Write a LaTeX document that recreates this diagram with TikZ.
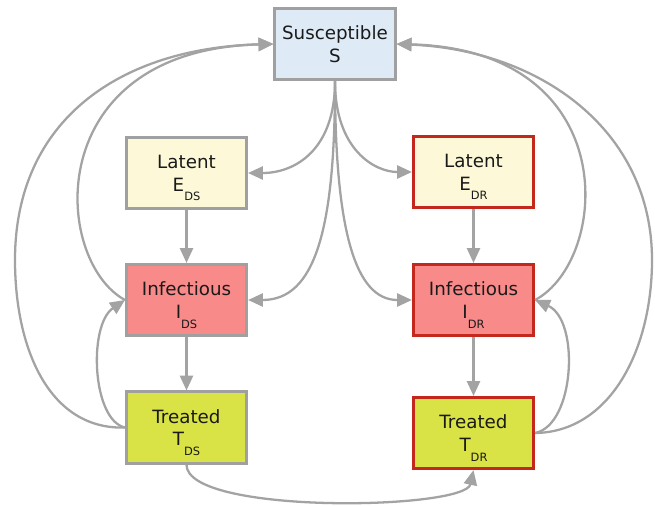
\documentclass[tikz,border=0pt]{standalone}
\usepackage{fontspec}
\setmainfont{DejaVu Sans}
\usetikzlibrary{arrows.meta}

\definecolor{edgegray}{HTML}{A3A3A3}
\definecolor{boxgray}{HTML}{A0A0A0}
\definecolor{resred}{HTML}{C4281C}
\definecolor{susfill}{HTML}{DEEBF6}
\definecolor{latfill}{HTML}{FDF9D8}
\definecolor{inffill}{HTML}{F98A8A}
\definecolor{trtfill}{HTML}{D9E346}
\definecolor{txtblack}{HTML}{1A1A1A}

% lowered subscript that does not move the text
\newcommand{\compsub}[1]{\raisebox{-5.5pt}[0pt][0pt]{\fontsize{6.5}{7}\selectfont #1}}

\begin{document}
\begin{tikzpicture}[x=0.02cm, y=-0.02cm,
  comp/.style={draw=boxgray, line width=1.5pt, minimum width=2.41cm, minimum height=1.43cm,
    inner sep=0pt, align=center, text=txtblack, font=\fontsize{10.4}{13}\selectfont},
  flow/.style={draw=edgegray, line width=1.3pt, -{Triangle[length=8.5pt,width=7.5pt]}}]
\useasboundingbox (0,0) rectangle (655,505);

% compartments
\node[comp, fill=susfill] (S) at (335,44) {Susceptible\\S};
\node[comp, fill=latfill] (Eds) at (186.5,173) {Latent\\E\compsub{DS}};
\node[comp, fill=latfill, draw=resred] (Edr) at (473.5,172) {Latent\\E\compsub{DR}};
\node[comp, fill=inffill] (Ids) at (186.5,300) {Infectious\\I\compsub{DS}};
\node[comp, fill=inffill, draw=resred] (Idr) at (473.5,300) {Infectious\\I\compsub{DR}};
\node[comp, fill=trtfill] (Tds) at (186.5,427.5) {Treated\\T\compsub{DS}};
\node[comp, fill=trtfill, draw=resred] (Tdr) at (473.5,433) {Treated\\T\compsub{DR}};

% infection
\draw[flow] (S.south) .. controls (335,150) and (295,173) .. (Eds.east);
\draw[flow] (S.south) .. controls (335,150) and (375,172) .. (Edr.west);
\draw[flow] (S.south) .. controls (335,230) and (315,300) .. (Ids.east);
\draw[flow] (S.south) .. controls (335,230) and (355,300) .. (Idr.west);

% progression
\draw[flow] (Eds) -- (Ids);
\draw[flow] (Ids) -- (Tds);
\draw[flow] (Edr) -- (Idr);
\draw[flow] (Idr) -- (Tdr);

% recovery and relapse, drug-sensitive
\draw[flow] (Ids.west) .. controls (52,260) and (40,50) .. (S.west);
\draw[flow] (Tds.west) .. controls (50,430) and (15,350) .. (15,260)
  .. controls (15,120) and (120,48) .. (S.west);
\draw[flow] (Tds.west) .. controls (92,420) and (88,325) .. (Ids.west);

% acquired resistance
\draw[flow] (Tds.south) .. controls (186,515) and (465,510) .. (Tdr.south);

% recovery and relapse, drug-resistant
\draw[flow] (Idr.east) .. controls (610,260) and (625,50) .. (S.east);
\draw[flow] (Tdr.east) .. controls (610,432) and (652,350) .. (652,260)
  .. controls (652,130) and (540,50) .. (S.east);
\draw[flow] (Tdr.east) .. controls (575,425) and (580,320) .. (Idr.east);
\end{tikzpicture}
\end{document}
